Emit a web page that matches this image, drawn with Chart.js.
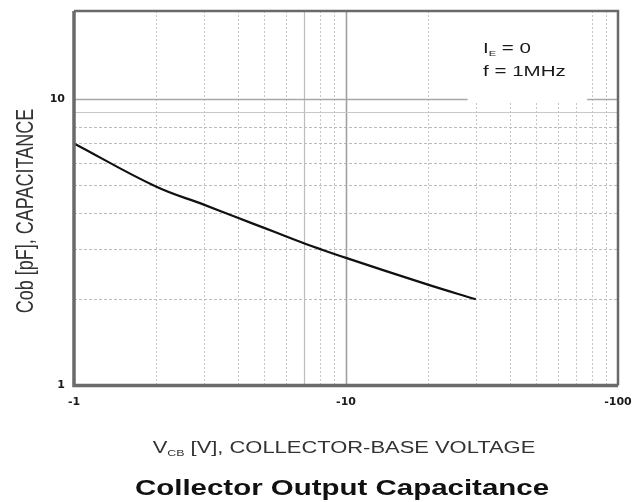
<!DOCTYPE html>
<html>
<head>
<meta charset="utf-8">
<script src="https://cdn.jsdelivr.net/npm/chart.js@4.4.1/dist/chart.umd.min.js"></script>
<style>
  html, body { margin: 0; padding: 0; background: #fff; }
  #wrap { width: 632px; height: 502px; }
</style>
</head>
<body>
<div id="wrap"><canvas id="cobChart" width="632" height="502"></canvas></div>
<script>
// Cob vs |VCB| (IE = 0, f = 1MHz)
const vcb = [1, 2, 3, 4, 5, 6, 7, 8, 10, 20, 30];
const cob = [7.0, 4.95, 4.28, 3.85, 3.55, 3.32, 3.14, 3.0, 2.79, 2.25, 2.0];

const xTickLabels = [1, 10, 100];
const yTickLabels = [1, 10];
const xGridDotted = [2, 3, 4, 5, 6, 8, 9, 20, 30, 40, 50, 60, 70, 80, 90];
const xGridSolid = [7, 10];
const yGridDotted = [2, 3, 4, 5, 6, 7, 8];
const yGridSolid = [9, 10];

// the scanned sheet is stretched sideways, so the text is too
const STRETCH = 1.37;
const FONT = "'Liberation Sans', Arial, sans-serif";

function wideText(ctx, text, x, y, align) {
	ctx.save();
	ctx.translate(x, y);
	ctx.scale(STRETCH, 1);
	ctx.textAlign = align || "left";
	ctx.fillText(text, 0, 0);
	ctx.restore();
}

// text made of [string, size, baselineShift] pieces, left aligned at x
function pieces(ctx, parts, x, y, weight) {
	let cx = x;
	parts.forEach(([s, size, dy]) => {
		ctx.font = (weight || "normal") + " " + size + "px " + FONT;
		wideText(ctx, s, cx, y + dy, "left");
		cx += ctx.measureText(s).width * STRETCH;
	});
}

function piecesWidth(ctx, parts, weight) {
	let w = 0;
	parts.forEach(([s, size]) => {
		ctx.font = (weight || "normal") + " " + size + "px " + FONT;
		w += ctx.measureText(s).width * STRETCH;
	});
	return w;
}

const sheetDecor = {
	id: "sheetDecor",
	beforeDatasetsDraw(chart) {
		const { ctx, chartArea: a, scales: { x, y } } = chart;
		ctx.save();
		ctx.beginPath();
		ctx.rect(a.left, a.top, a.right - a.left, a.bottom - a.top);
		ctx.clip();

		const vline = (v, color, w, dash) => {
			const px = Math.round(x.getPixelForValue(v)) + 0.5;
			ctx.strokeStyle = color; ctx.lineWidth = w; ctx.setLineDash(dash);
			ctx.beginPath(); ctx.moveTo(px, a.top); ctx.lineTo(px, a.bottom); ctx.stroke();
		};
		const hline = (v, color, w, dash) => {
			const py = Math.round(y.getPixelForValue(v)) + 0.5;
			ctx.strokeStyle = color; ctx.lineWidth = w; ctx.setLineDash(dash);
			ctx.beginPath(); ctx.moveTo(a.left, py); ctx.lineTo(a.right, py); ctx.stroke();
		};

		xGridDotted.forEach(v => vline(v, "#c6c6c6", 1, [2, 2]));
		yGridDotted.forEach(v => hline(v, "#bcbcbc", 1, [3, 2]));
		xGridSolid.forEach(v => vline(v, v === 10 ? "#a0a0a0" : "#bcbcbc", v === 10 ? 1.6 : 1.2, []));
		yGridSolid.forEach(v => hline(v, v === 10 ? "#a8a8a8" : "#c8c8c8", v === 10 ? 1.6 : 1.2, []));

		// blank patch behind the test conditions
		const bx0 = x.getPixelForValue(28), bx1 = x.getPixelForValue(77);
		const by1 = y.getPixelForValue(10) + 2;
		ctx.fillStyle = "#fff";
		ctx.fillRect(bx0, a.top, bx1 - bx0, by1 - a.top);
		ctx.restore();

		ctx.save();
		ctx.fillStyle = "#1a1a1a";
		ctx.textBaseline = "alphabetic";
		pieces(ctx, [["I", 15, 0], ["E", 8, 3], [" = 0", 15, 0]], 483, 53);
		pieces(ctx, [["f = 1MHz", 15, 0]], 483, 76);
		ctx.restore();
	},
	afterDatasetsDraw(chart) {
		const { ctx, chartArea: a } = chart;
		ctx.save();
		ctx.strokeStyle = "#6a6a6a";
		ctx.setLineDash([]);
		ctx.lineWidth = 3.5;
		ctx.beginPath();
		ctx.moveTo(a.left, a.top); ctx.lineTo(a.left, a.bottom); ctx.lineTo(a.right, a.bottom);
		ctx.stroke();
		ctx.lineWidth = 2.5;
		ctx.beginPath();
		ctx.moveTo(a.left, a.top); ctx.lineTo(a.right, a.top); ctx.lineTo(a.right, a.bottom);
		ctx.stroke();
		ctx.restore();
	},
	afterDraw(chart) {
		const { ctx, chartArea: a } = chart;
		const mid = (a.left + a.right) / 2;
		ctx.save();
		ctx.textBaseline = "alphabetic";

		// x axis title with subscript
		ctx.fillStyle = "#333";
		const xt = [["V", 16, 0], ["CB", 9, 3], [" [V], COLLECTOR-BASE VOLTAGE", 16, 0]];
		pieces(ctx, xt, mid - 2 - piecesWidth(ctx, xt) / 2, 452.5);

		// y axis title, rotated
		ctx.font = "18px " + FONT;
		ctx.save();
		ctx.translate(33, 211);
		ctx.scale(STRETCH, 1);
		ctx.rotate(-Math.PI / 2);
		ctx.textAlign = "center";
		ctx.fillText("Cob [pF], CAPACITANCE", 0, 0);
		ctx.restore();

		// chart title
		ctx.fillStyle = "#111";
		ctx.font = "bold 21.5px " + FONT;
		wideText(ctx, "Collector Output Capacitance", 342, 495, "center");
		ctx.restore();
	}
};

const ctx = document.getElementById("cobChart").getContext("2d");

new Chart(ctx, {
	type: "scatter",
	data: {
		datasets: [{
			label: "Cob",
			data: vcb.map((v, i) => ({ x: v, y: cob[i] })),
			showLine: true,
			borderColor: "#111",
			borderWidth: 2.2,
			pointRadius: 0,
			tension: 0.4,
			fill: false,
		}],
	},
	options: {
		responsive: false,
		animation: false,
		layout: { padding: { left: 0, right: 14, top: 11, bottom: 0 } },
		plugins: {
			legend: { display: false },
			tooltip: { enabled: false },
			title: { display: false },
		},
		scales: {
			x: {
				type: "logarithmic",
				min: 1,
				max: 100,
				grid: { display: false, drawTicks: false },
				border: { display: false },
				afterBuildTicks: (scale) => {
					scale.ticks = xTickLabels.map(v => ({ value: v }));
				},
				afterFit: (scale) => {
					scale.height = 116.5;
					scale.paddingLeft = 0;
					scale.paddingRight = 0;
				},
				ticks: {
					autoSkip: false,
					maxRotation: 0,
					padding: 10,
					color: "#1a1a1a",
					font: { family: "'DejaVu Sans'", size: 11, weight: "bold" },
					callback: (v) => "-" + v,
				},
			},
			y: {
				type: "logarithmic",
				min: 1,
				max: 20.3,
				grid: { display: false, drawTicks: false },
				border: { display: false },
				afterBuildTicks: (scale) => {
					scale.ticks = yTickLabels.map(v => ({ value: v }));
				},
				afterFit: (scale) => {
					scale.width = 74;
					scale.paddingTop = 0;
					scale.paddingBottom = 0;
				},
				ticks: {
					autoSkip: false,
					padding: 9,
					color: "#1a1a1a",
					font: { family: "'DejaVu Sans'", size: 11, weight: "bold" },
					callback: (v) => String(v),
				},
			},
		},
	},
	plugins: [sheetDecor],
});
</script>
</body>
</html>
